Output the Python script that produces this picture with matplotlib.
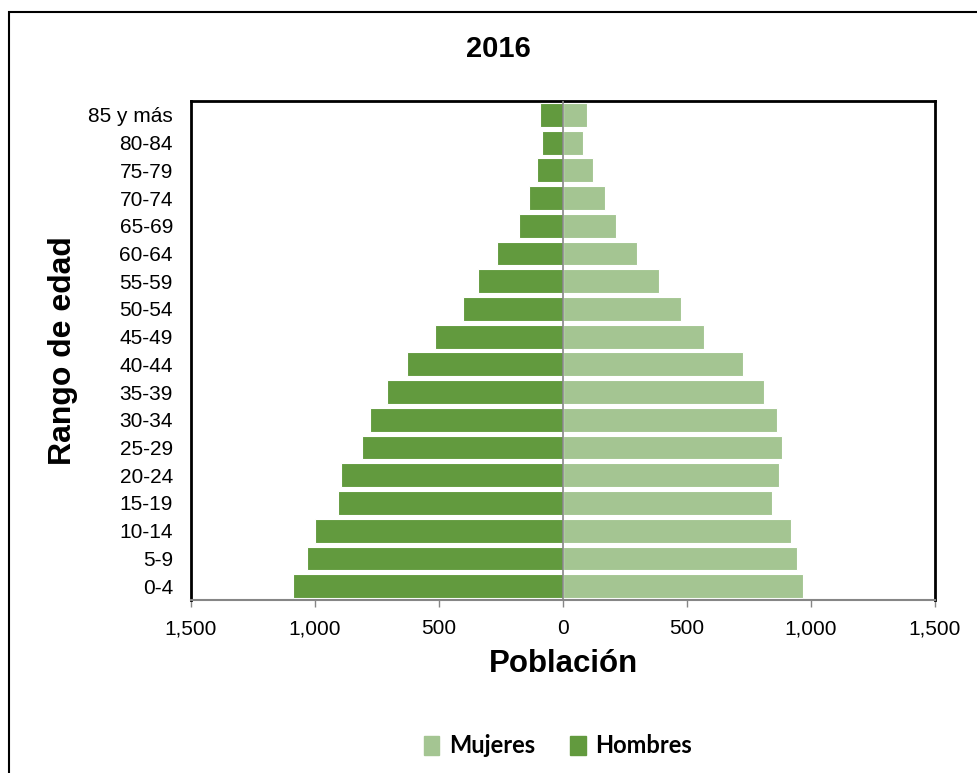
import matplotlib.pyplot as plt
from matplotlib.patches import Rectangle, Patch
from matplotlib.ticker import FuncFormatter

# datos de la piramide 2016
grupos = ["0-4", "5-9", "10-14", "15-19", "20-24", "25-29", "30-34", "35-39",
          "40-44", "45-49", "50-54", "55-59", "60-64", "65-69", "70-74",
          "75-79", "80-84", "85 y más"]
hombres = [1087, 1034, 999, 907, 894, 812, 779, 711, 630, 516, 403, 343,
           267, 178, 137, 106, 83, 91]
mujeres = [967, 944, 921, 844, 870, 883, 862, 809, 726, 570, 474, 389,
           300, 215, 168, 123, 81, 95]

COLOR_H = "#629a3e"
COLOR_M = "#a4c592"

fig = plt.figure(figsize=(9.77, 7.73), dpi=100)
ax = fig.add_axes([0.1955, 0.2238, 0.7615, 0.6455])

pos = list(range(len(grupos)))
ax.barh(pos, mujeres, height=0.86, color=COLOR_M, edgecolor="white", linewidth=0.8)
ax.barh(pos, [-h for h in hombres], height=0.86, color=COLOR_H, edgecolor="white", linewidth=0.8)
ax.axvline(0, color="#868686", linewidth=1.2, zorder=3)

ax.set_xlim(-1500, 1500)
ax.set_ylim(-0.5, len(grupos) - 0.5)
ax.set_yticks(pos)
ax.set_yticklabels(grupos, fontfamily="Liberation Sans", fontsize=15)
ax.tick_params(axis="y", length=0, pad=13)

ax.set_xticks([-1500, -1000, -500, 0, 500, 1000, 1500])
ax.xaxis.set_major_formatter(FuncFormatter(lambda v, p: f"{abs(v):,.0f}"))
for lab in ax.get_xticklabels():
    lab.set_fontfamily("Liberation Sans")
    lab.set_fontsize(15)
ax.tick_params(axis="x", length=5, width=1, color="#868686", pad=9)

for s in ["left", "top", "right"]:
    ax.spines[s].set_linewidth(2)
    ax.spines[s].set_color("black")
ax.spines["bottom"].set_color("#868686")
ax.spines["bottom"].set_linewidth(1.5)

# textos
fig.text(0.51, 0.936, "2016", ha="center", va="center", fontsize=21,
         fontweight="bold", fontfamily="Liberation Sans")
fig.text(0.577, 0.141, "Población", ha="center", va="center", fontsize=22.5,
         fontweight="bold", fontfamily="Liberation Sans")
fig.text(0.064, 0.547, "Rango de edad", ha="center", va="center", rotation=90,
         fontsize=23, fontweight="bold", fontfamily="Liberation Sans")

handles = [Patch(color=COLOR_M, label="Mujeres"), Patch(color=COLOR_H, label="Hombres")]
fig.legend(handles=handles, loc="center", bbox_to_anchor=(0.571, 0.035), ncol=2,
           frameon=False, handlelength=0.65, handleheight=0.9, handletextpad=0.4,
           columnspacing=1.5, prop={"family": "Lato", "weight": "bold", "size": 17})

# borde exterior del grafico
fig.patches.append(Rectangle((0.0092, -0.05), 1.2, 1.0345, transform=fig.transFigure,
                             fill=False, edgecolor="black", linewidth=1.5))

fig.savefig("out.png", dpi=100)
